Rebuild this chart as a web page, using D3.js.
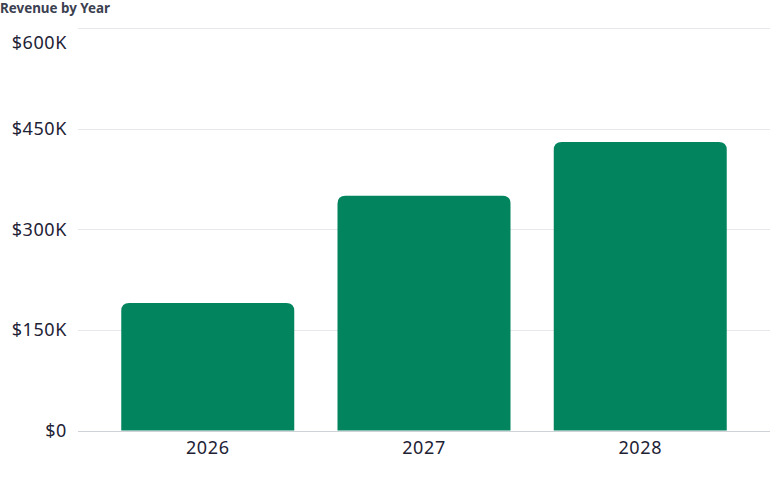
<!DOCTYPE html>
<html>
<head>
<meta charset="utf-8">
<script src="https://cdn.jsdelivr.net/npm/d3@7"></script>
<style>
  body { margin: 0; background: #fff; }
  svg text { font-family: "Noto Sans", Lato, sans-serif; }
</style>
</head>
<body>
<div id="chart"></div>
<script>
// chart data
const YEARS = ["2026", "2027", "2028"];
const REVENUE = [190000, 350000, 430000];
const Y_TICKS = [0, 150000, 300000, 450000, 600000];

const FRAME_WIDTH = 770;
const FRAME_HEIGHT = 477;
const MARGINS = {left: 78, right: 0, top: 28, bottom: 46};

const FRAME = d3.select("#chart")
  .append("svg")
    .attr("width", FRAME_WIDTH)
    .attr("height", FRAME_HEIGHT);

// title
FRAME.append("text")
  .attr("x", 0)
  .attr("y", 13)
  .attr("font-size", "13.4px")
  .attr("font-weight", 700)
  .attr("fill", "#3b4150")
  .text("Revenue by Year");

const yScale = d3.scaleLinear()
  .domain([0, 600000])
  .range([FRAME_HEIGHT - MARGINS.bottom - 0.5, MARGINS.top]);

const xScale = d3.scaleBand()
  .domain(YEARS)
  .range([MARGINS.left, FRAME_WIDTH - MARGINS.right])
  .padding(0.2);

const fmt = v => v === 0 ? "$0" : "$" + (v / 1000) + "K";

// gridlines
FRAME.append("g")
  .selectAll("line")
  .data(Y_TICKS)
  .enter()
  .append("line")
    .attr("x1", MARGINS.left)
    .attr("x2", FRAME_WIDTH)
    .attr("y1", d => Math.round(yScale(d)) + 0.5)
    .attr("y2", d => Math.round(yScale(d)) + 0.5)
    .attr("stroke", d => d === 0 ? "#cfd2d8" : "#e6e8ec")
    .attr("stroke-width", 1);

// y labels (top one nudged down so it stays inside the frame)
FRAME.append("g")
  .selectAll("text")
  .data(Y_TICKS)
  .enter()
  .append("text")
    .attr("x", 67)
    .attr("y", d => Math.max(yScale(d), 43))
    .attr("dy", "0.36em")
    .attr("text-anchor", "end")
    .attr("font-size", "18px")
    .attr("letter-spacing", "0.6px")
    .attr("fill", "#1e2235")
    .text(fmt);

// bars with rounded top corners
const R = 8;
const base = yScale(0);
FRAME.append("g")
  .selectAll("path")
  .data(YEARS)
  .enter()
  .append("path")
    .attr("fill", "#02845f")
    .attr("d", (d, i) => {
      const x0 = xScale(d), x1 = x0 + xScale.bandwidth();
      const y = yScale(REVENUE[i]);
      return `M${x0},${base}V${y + R}Q${x0},${y} ${x0 + R},${y}` +
             `H${x1 - R}Q${x1},${y} ${x1},${y + R}V${base}Z`;
    });

// x labels
FRAME.append("g")
  .selectAll("text")
  .data(YEARS)
  .enter()
  .append("text")
    .attr("x", d => xScale(d) + xScale.bandwidth() / 2)
    .attr("y", 448)
    .attr("dy", "0.36em")
    .attr("text-anchor", "middle")
    .attr("font-size", "18px")
    .attr("letter-spacing", "0.6px")
    .attr("fill", "#1e2235")
    .text(d => d);
</script>
</body>
</html>
